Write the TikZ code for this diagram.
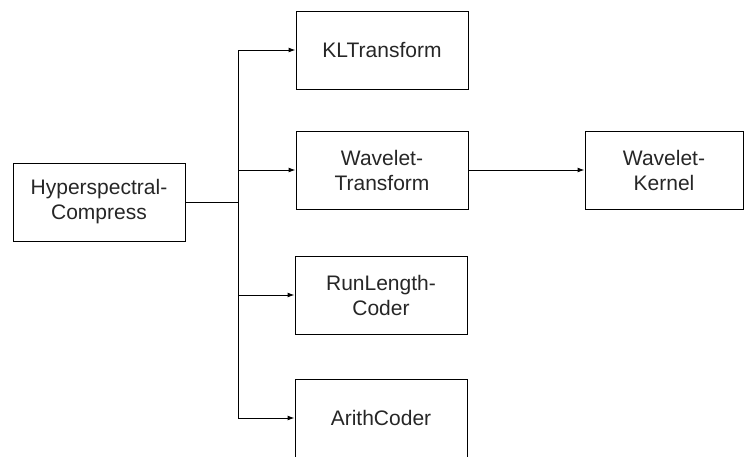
\documentclass[tikz,border=0pt]{standalone}
\usepackage{fontspec}
\setmainfont{Liberation Sans}
\usetikzlibrary{arrows.meta}
\begin{document}
\begin{tikzpicture}[x=1pt,y=-1pt,line width=1pt,
  module/.style={draw, minimum width=172pt, minimum height=78pt, align=center,
    text=black!85, font=\fontsize{21}{25}\selectfont},
  link/.style={-{Latex[length=7pt,width=5pt]}}]
  \useasboundingbox (0,0) rectangle (745,456);
  \node[module] (HC) at (99,202) {Hyperspectral-\\Compress};
  \node[module] (KL) at (382,50) {KLTransform};
  \node[module] (WT) at (382,170) {Wavelet-\\Transform};
  \node[module, minimum width=158pt] (WK) at (664,170) {Wavelet-\\Kernel};
  \node[module] (RL) at (381,295) {RunLength-\\Coder};
  \node[module] (AC) at (381,418) {ArithCoder};
  \coordinate (split) at (238,202);
  \draw (HC.east) -- (split);
  \draw[link] (split) |- (KL);
  \draw[link] (split) |- (WT);
  \draw[link] (split) |- (RL);
  \draw[link] (split) |- (AC);
  \draw[link] (WT) -- (WK);
\end{tikzpicture}
\end{document}
